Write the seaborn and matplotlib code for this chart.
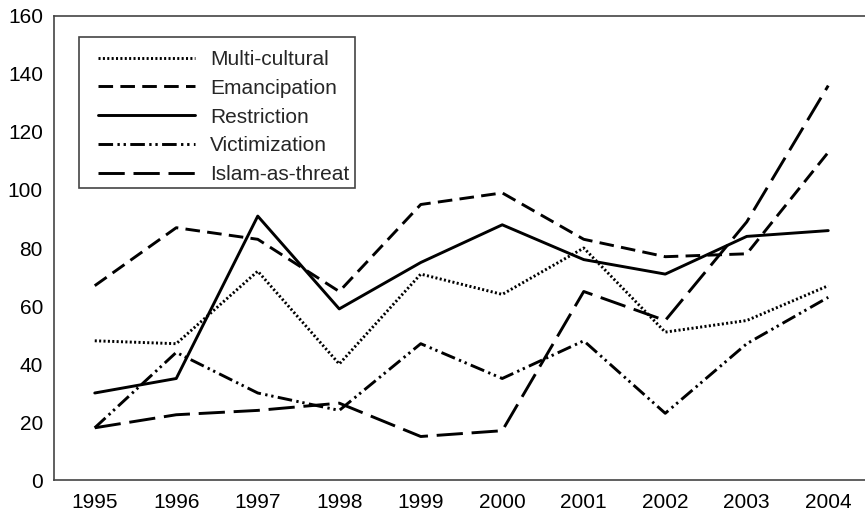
import pandas as pd
import matplotlib
matplotlib.use("Agg")
import matplotlib.pyplot as plt
import matplotlib.patches as mpatches
import seaborn as sns

# values
years = [1995, 1996, 1997, 1998, 1999, 2000, 2001, 2002, 2003, 2004]
multi_cultural = [48, 47, 72, 40, 71, 64, 80, 51, 55, 67]
emancipation = [67, 87, 83, 65, 95, 99, 83, 77, 78, 113]
restriction = [30, 35, 91, 59, 75, 88, 76, 71, 84, 86]
victimization = [18, 44, 30, 24, 47, 35, 48, 23, 47, 63]
islam_as_threat = [18, 22.5, 24, 26.5, 15, 17, 65, 55, 89, 136]

series = {
    "Multi-cultural": multi_cultural,
    "Emancipation": emancipation,
    "Restriction": restriction,
    "Victimization": victimization,
    "Islam-as-threat": islam_as_threat,
}

rows = []
for name, vals in series.items():
    for i, v in enumerate(vals):
        rows.append({"pos": i, "value": v, "series": name})
df = pd.DataFrame(rows)

dash_map = {
    "Multi-cultural": (0.7, 0.8),
    "Emancipation": (5, 2.5),
    "Restriction": "",
    "Victimization": (5, 1.5, 0.8, 1.3, 0.8, 1.5),
    "Islam-as-threat": (9, 3),
}

sns.set_style("white")
plt.rcParams["font.family"] = ["Liberation Sans", "DejaVu Sans"]

W, H = 865, 517
fig = plt.figure(figsize=(W / 100, H / 100), dpi=100)
ax = fig.add_axes([54 / W, 37 / H, 815 / W, 464 / H])

sns.lineplot(data=df, x="pos", y="value", style="series",
             dashes=dash_map, color="black", linewidth=2.1, ax=ax,
             style_order=list(series.keys()))

ax.set_xlim(-0.5, 9.5)
ax.set_ylim(0, 160)
ax.set_yticks(range(0, 161, 20))
ax.set_xticks(range(len(years)))
ax.set_xticklabels([str(y) for y in years])
ax.set_xticks([i - 0.5 for i in range(len(years) + 1)], minor=True)
ax.tick_params(axis="x", which="major", length=0, labelsize=15, pad=9,
               colors="black")
ax.tick_params(axis="x", which="minor", length=8, width=1.2, color="#333333",
               direction="out")
ax.tick_params(axis="y", length=6, width=1.2, direction="out",
               labelsize=15, pad=2, colors="black")
ax.tick_params(axis="y", color="#333333")
ax.set_xlabel("")
ax.set_ylabel("")

for sp in ax.spines.values():
    sp.set_color("#444444")
    sp.set_linewidth(1.2)

# legend entries without frame, frame drawn as a plain box
handles, labels = ax.get_legend_handles_labels()
leg = ax.legend(handles, labels, loc="upper left",
                bbox_to_anchor=(97.5 / W, 1 - 50 / H),
                bbox_transform=fig.transFigure, borderaxespad=0,
                borderpad=0, fontsize=15, handlelength=4.7,
                handletextpad=0.7, labelspacing=0.47, frameon=False)

box = mpatches.Rectangle((79 / W, 1 - 188 / H), 276 / W, 151 / H,
                         transform=fig.transFigure, fill=False,
                         edgecolor="#444444", linewidth=1.2, zorder=5)
fig.patches.append(box)

fig.savefig("out.png", dpi=100)
